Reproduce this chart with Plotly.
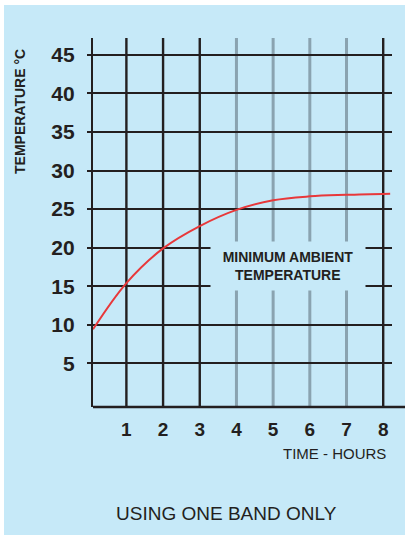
import plotly.graph_objects as go

# Data
hours = [0.09, 1.0, 2.0, 3.0, 4.0, 5.0, 6.0, 7.0, 8.19]
temperature = [9.4, 15.4, 19.9, 22.8, 24.9, 26.15, 26.65, 26.85, 27.0]
x_ticks = [1, 2, 3, 4, 5, 6, 7, 8]
y_ticks = [5, 10, 15, 20, 25, 30, 35, 40, 45]
dark_cols = [1, 2, 3, 8]
grey_cols = [4, 5, 6, 7]

BG = "#c6e9f8"
INK = "#231f20"
GREY = "#8aa3b0"
FONT = "Liberation Sans"

W, H = 405, 535
L, R, T, B = 93, 13, 38, 128

fig = go.Figure()
fig.add_trace(go.Scatter(x=hours, y=temperature, mode="lines",
                         line=dict(color="#e8383a", width=2, shape="spline", smoothing=1.0),
                         hoverinfo="skip", showlegend=False))

shapes = []
for c in dark_cols:
    shapes.append(dict(type="line", xref="x", yref="paper", x0=c, x1=c, y0=0, y1=1,
                       line=dict(color=INK, width=2.4), layer="below"))
for c in grey_cols:
    shapes.append(dict(type="line", xref="x", yref="paper", x0=c, x1=c, y0=0, y1=1,
                       line=dict(color=GREY, width=3), layer="below"))
# white frame strips
pw = W - L - R
ph = H - T - B
shapes.append(dict(type="rect", xref="paper", yref="paper",
                   x0=-L / pw - 0.1, x1=(W - L) / pw + 0.1, y0=1 + (T - 5) / ph, y1=1 + T / ph + 0.1,
                   fillcolor="white", line=dict(width=0), layer="below"))
shapes.append(dict(type="rect", xref="paper", yref="paper",
                   x0=-L / pw - 0.1, x1=-(L - 4) / pw, y0=-B / ph - 0.1, y1=1 + T / ph + 0.1,
                   fillcolor="white", line=dict(width=0), layer="below"))
# bottom axis extension
shapes.append(dict(type="line", xref="paper", yref="paper", x0=0, x1=(W - L) / pw, y0=0, y1=0,
                   line=dict(color=INK, width=2.4)))

annotations = [
    dict(text="<b>MINIMUM AMBIENT<br>TEMPERATURE</b>", x=5.4, y=17.6, xref="x", yref="y",
         showarrow=False, font=dict(family=FONT, size=14, color=INK),
         bgcolor=BG, borderpad=7, width=140),
    dict(text="TIME - HOURS", x=(388 - L) / pw, y=-(454 - (H - B)) / ph, xref="paper", yref="paper",
         xanchor="right", yanchor="middle", showarrow=False,
         font=dict(family=FONT, size=15, color=INK)),
    dict(text="USING ONE BAND ONLY", x=(226 - L) / pw, y=-(513 - (H - B)) / ph, xref="paper", yref="paper",
         xanchor="center", yanchor="middle", showarrow=False,
         font=dict(family=FONT, size=19, color=INK)),
    dict(text="<b>TEMPERATURE °C</b>", x=-(L - 20) / pw, y=(H - B - 112) / ph, xref="paper", yref="paper",
         textangle=-90, xanchor="center", yanchor="middle", showarrow=False,
         font=dict(family=FONT, size=14, color=INK)),
]

fig.update_layout(
    width=W, height=H,
    margin=dict(l=L, r=R, t=T, b=B, pad=0),
    paper_bgcolor=BG, plot_bgcolor=BG,
    shapes=shapes, annotations=annotations,
    xaxis=dict(range=[0.09, 8.24], tickvals=x_ticks, showgrid=False, zeroline=False,
               showline=False, ticks="outside", ticklen=5, tickcolor="rgba(0,0,0,0)",
               tickfont=dict(family=FONT, size=19, color=INK, weight="bold")),
    yaxis=dict(range=[-0.68, 47.2], tickvals=y_ticks, showgrid=True, gridcolor=INK, gridwidth=2.4,
               zeroline=False, showline=True, linecolor=INK, linewidth=2.4,
               ticks="outside", ticklen=4, tickcolor=INK, tickwidth=2,
               ticklabelstandoff=8,
               tickfont=dict(family=FONT, size=21, color=INK, weight="bold")),
)

fig.write_html("out.html", config={"displayModeBar": False},
               post_script="document.body.style.margin='0';")
